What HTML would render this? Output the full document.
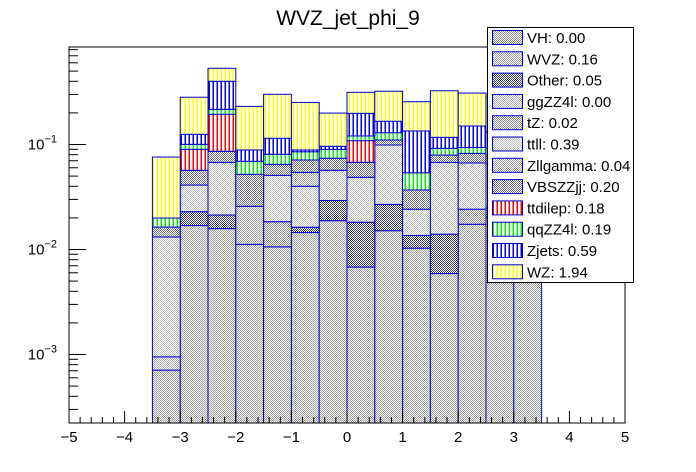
<!DOCTYPE html>
<html><head><meta charset="utf-8"><style>
body{margin:0;background:#fff;}
svg{display:block;font-family:"Liberation Sans",Arial,sans-serif;}
</style></head><body>
<svg id="c" width="696" height="472" xmlns="http://www.w3.org/2000/svg">
<defs>
<clipPath id="frameclip"><rect x="69" y="47" width="556" height="376"/></clipPath>
</defs>
<text x="348" y="25" text-anchor="middle" font-size="21">WVZ_jet_phi_9</text>
<g id="bars" clip-path="url(#frameclip)"></g>
<g id="axes"></g>
<g id="legend"></g>
</svg>
<script>
const binEdges = [-3.5,-3,-2.5,-2,-1.5,-1,-0.5,0,0.5,1,1.5,2,2.5,3,3.5];
const seriesNames = ["VH","WVZ","Other","ggZZ4l","tZ","ttll","Zllgamma","VBSZZjj","ttdilep","qqZZ4l","Zjets","WZ"];
const legendLabels = ["VH: 0.00","WVZ: 0.16","Other: 0.05","ggZZ4l: 0.00","tZ: 0.02","ttll: 0.39","Zllgamma: 0.04","VBSZZjj: 0.20","ttdilep: 0.18","qqZZ4l: 0.19","Zjets: 0.59","WZ: 1.94"];
const vVH      = [0,0,0,0,0,0,0,0,0,0,0,0,0,0];
const vWVZ     = [0.00071,0.0169,0.0158,0.0112,0.0106,0.0145,0.0188,0.0068,0.0151,0.0103,0.0059,0.0174,0.020,0.020];
const vOther   = [0,0.0060,0.0055,0,0,0.0018,0.0105,0.0114,0.0118,0.0033,0.0081,0,0.005,0.005];
const vggZZ4l  = [0.00024,0,0,0,0,0,0,0,0,0,0,0,0,0];
const vtZ      = [0,0,0,0,0.0078,0,0,0,0,0,0,0.0068,0,0];
const vttll    = [0.0122,0.0182,0.0463,0,0.0325,0.0237,0.0275,0.0306,0.072,0.0106,0.0535,0.0425,0.040,0.040];
const vZll     = [0,0,0,0.0146,0,0.0143,0,0,0,0,0,0,0,0];
const vVBS     = [0.0032,0.0157,0.0185,0.0262,0.0139,0.0169,0.0172,0.0189,0.0115,0.0127,0.0118,0.0157,0.015,0.015];
const vttdilep = [0,0.0332,0.108,0,0,0,0,0.0411,0,0,0,0,0,0];
const vqqZZ4l  = [0.0036,0.0104,0.022,0.0172,0.0159,0.0141,0.016,0.0118,0.0191,0.0169,0.0126,0.0112,0.012,0.012];
const vZjets   = [0,0.0246,0.184,0.0195,0.0339,0.0034,0.0062,0.0775,0.037,0.0808,0.0252,0.0564,0.040,0.040];
const vWZ      = [0.056,0.157,0.132,0.142,0.186,0.163,0.103,0.116,0.155,0.121,0.208,0.159,0.150,0.150];
const seriesValues = [vVH,vWVZ,vOther,vggZZ4l,vtZ,vttll,vZll,vVBS,vttdilep,vqqZZ4l,vZjets,vWZ];
const xTicks = [-5,-4,-3,-2,-1,0,1,2,3,4,5];
const yTickExps = [-1,-2,-3];

const NS="http://www.w3.org/2000/svg";
const svg=document.getElementById('c');
const defs=svg.querySelector('defs');
const X0=69,X1=625,Y0=47,Y1=423;
function xs(v){return X0+(v+5)/10*(X1-X0);}
function ys(v){return 144.5-(Math.log10(v)+1)*105;}
function mk(tag,attrs,parent){const e=document.createElementNS(NS,tag);for(const k in attrs)e.setAttribute(k,attrs[k]);parent.appendChild(e);return e;}

const styles=[["check","#888888"],["check","#9a9a9a"],["check","#3a3a5a"],["check","#aaaaaa"],["check","#888888"],["check","#c0c0c0"],["check","#999999"],["check","#707080"],["vline","#ff0000"],["vline","#00ee00"],["vline","#0000ff"],["vline","#ffff00"]];
styles.forEach((s,i)=>{
  const p=mk('pattern',{id:'p'+i,width:s[0]==='check'?2:4,height:s[0]==='check'?2:4,patternUnits:'userSpaceOnUse'},defs);
  mk('rect',{x:0,y:0,width:4,height:4,fill:'#fff'},p);
  if(s[0]==='check'){mk('rect',{x:0,y:0,width:1,height:1,fill:s[1]},p);mk('rect',{x:1,y:1,width:1,height:1,fill:s[1]},p);}
  else mk('rect',{x:0.5,y:0,width:1.5,height:4,fill:s[1]},p);
});

const bars=document.getElementById('bars');
const cum=new Array(binEdges.length-1).fill(0);
seriesValues.forEach((vals,si)=>{
  const g=mk('g',{},bars);
  
  
  vals.forEach((v,b)=>{
    const lo=cum[b],hi=cum[b]+v;cum[b]=hi;
    if(v<=0)return;
    const yTop=ys(hi),yBot=lo>0?ys(lo):Y1+5;
    const r=mk('rect',{x:xs(binEdges[b]),y:yTop,width:xs(binEdges[b+1])-xs(binEdges[b]),height:Math.max(0,yBot-yTop),fill:'url(#p'+si+')',stroke:'#0000cc','stroke-width':1},g);
    
    
  });
});

const ax=document.getElementById('axes');
mk('rect',{x:X0,y:Y0,width:X1-X0,height:Y1-Y0,fill:'none',stroke:'#000','stroke-width':1},ax);
for(let t=-5;t<=5.001;t+=0.2){
  const tv=Math.round(t*10)/10;
  const major=Math.abs(tv-Math.round(tv))<1e-6;
  const half=Math.abs(Math.abs(tv-Math.floor(tv))-0.5)<1e-6;
  const len=major?12:(half?8:6);
  mk('line',{x1:xs(tv),x2:xs(tv),y1:Y1,y2:Y1-len,stroke:'#000'},ax);
}
xTicks.forEach(t=>{
  const l=mk('text',{x:xs(t),y:442,'text-anchor':'middle','font-size':15},ax);
  l.textContent=(t<0?'\u2212'+(-t):String(t));
  
  
});
for(let e=-4;e<=0;e++){
  for(let m=1;m<=9;m++){
    const v=m*Math.pow(10,e);const y=ys(v);
    if(y<Y0||y>Y1)continue;
    mk('line',{x1:X0,x2:X0+(m===1?17:9),y1:y,y2:y,stroke:'#000'},ax);
  }
}
yTickExps.forEach(e=>{
  const t=mk('text',{x:57,y:ys(Math.pow(10,e))+5,'text-anchor':'end','font-size':15},ax);
  t.textContent='10';
  const s=mk('tspan',{dy:-7,'font-size':11},t);
  s.textContent='\u2212'+(-e);
  
  
});

const lg=document.getElementById('legend');
mk('rect',{x:487.5,y:27.5,width:146,height:255,fill:'#fff',stroke:'#000','stroke-width':1},lg);
legendLabels.forEach((lab,i)=>{
  const cy=37.5+i*21.3;
  const g=mk('g',{},lg);
  
  
  mk('rect',{x:492.5,y:cy-7,width:30,height:14,fill:'url(#p'+i+')',stroke:'#0000cc','stroke-width':1},g);
  const t=mk('text',{x:527,y:cy+5.5,'font-size':15},g);
  t.textContent=lab;
});
</script>
</body></html>
